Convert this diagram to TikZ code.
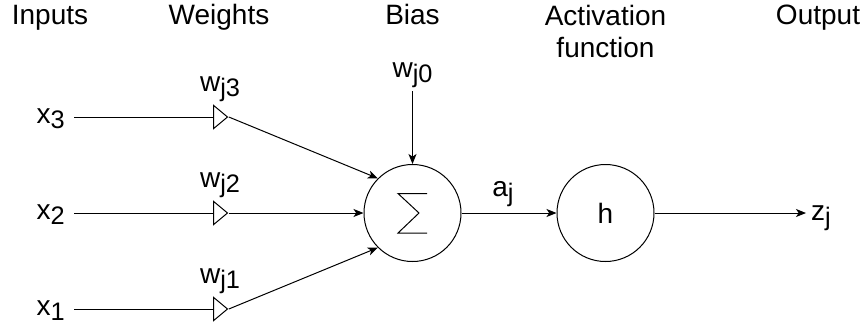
\documentclass[tikz,border=0pt]{standalone}
\usepackage{fontspec}
\setmainfont{Liberation Sans}
\usetikzlibrary{arrows.meta, shapes.geometric, calc, positioning}
\newcommand{\lowsub}[1]{\raisebox{-4.3pt}{\fontsize{19}{19}\selectfont #1}}
\newcommand{\inputline}[3]{
    \coordinate (#1-s) at (74, #2);
    \node[lbl, anchor=base east] (#1-x) at (68, #2+6) {x\lowsub{#3}};
    \node[weight] (#1-t) at (213, #2) {};
    \node[lbl, anchor=base] (#1-w) at (220, #2-26) {w\lowsub{j#3}};
    \draw (#1-s) -- (#1-t.lower side);
}
\tikzset{
    lbl/.style={inner sep=2pt, font=\fontsize{21}{24}\selectfont},
    weight/.style={draw, isosceles triangle, isosceles triangle stretches, minimum width=17.5pt, minimum height=10.5pt, inner sep=0pt, anchor=lower side},
    unit/.style={draw, circle, minimum size=72.75pt, inner sep=0pt, font=\fontsize{21}{24}\selectfont},
    arr/.style={-{Stealth[length=7.5pt, width=6pt, inset=2pt]}},
}

\begin{document}
\begin{tikzpicture}[x=0.75pt, y=-0.75pt, line width=0.75pt]
    \useasboundingbox (0,0) rectangle (867,330);
    \node[lbl, anchor=base] (inputs) at (50, 24) {Inputs};
    \node[lbl, anchor=base] (weights) at (219, 24) {Weights};
    \node[lbl, anchor=base] (bias) at (412.5, 24) {Bias};
    \node[lbl, anchor=base, align=center] (act) at (605.5, 57) {Activation\\function};
    \node[lbl, anchor=base] (output) at (818, 24) {Output};
    \inputline{i3}{117}{3}
    \inputline{i2}{213}{2}
    \inputline{i1}{309}{1}
    \node[unit] (sum) at (412.5, 213) {};
    \draw ($(sum)+(14.5,-19.5)$) -- ++(-29,0) -- ++(21,19.5) -- ++(-21,20) -- ++(29,0);
    \node[unit] (h) at (605.5, 213) {h};
    \node[lbl, anchor=base] (w0) at (412.5, 77) {w\lowsub{j0}};
    \node[lbl, anchor=base] (aj) at (503, 196) {a\lowsub{j}};
    \node[lbl, anchor=base west] (zj) at (808, 220) {z\lowsub{j}};
    \coordinate (out) at (806, 213);
    \draw[arr] (i3-t.apex) -- (sum.135);
    \draw[arr] (i2-t.apex) -- (sum.west);
    \draw[arr] (i1-t.apex) -- (sum.225);
    \draw[arr] (w0.south) -- (sum.north);
    \draw[arr] (sum) -- (h);
    \draw[arr] (h) -- (out);
\end{tikzpicture}
\end{document}
